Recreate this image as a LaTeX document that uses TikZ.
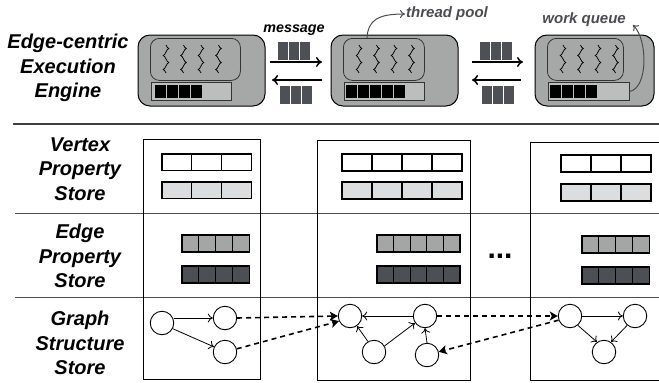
\documentclass[tikz,border=0pt]{standalone}
\usepackage{fontspec}
\setmainfont{Liberation Sans}
\usetikzlibrary{arrows.meta,calc}
\definecolor{engfill}{HTML}{A6A8A8}
\definecolor{barfill}{HTML}{BCBDBD}
\definecolor{msgfill}{HTML}{4D5055}
\definecolor{vlight}{HTML}{DCDDDE}
\definecolor{emid}{HTML}{A3A6A5}
\definecolor{edark}{HTML}{4C4F53}
\definecolor{lblgray}{HTML}{4A4C4F}
\tikzset{
  lbl/.style={font=\fontsize{20}{24.5}\selectfont\bfseries\itshape, align=center},
  engine/.style={draw=black, line width=1pt, fill=engfill, rounded corners=12pt},
  pool/.style={draw=black!80, line width=0.8pt, fill=engfill, rounded corners=9pt},
  qbar/.style={draw=black!80, line width=0.8pt, fill=barfill},
  qcell/.style={fill=black},
  msgcell/.style={fill=msgfill},
  msgarrow/.style={line width=1.8pt, -{To[length=6pt,width=10pt,line width=1.5pt]}},
  cell/.style={draw=black, line width=1.2pt},
  part/.style={draw=black, line width=1pt},
  vnode/.style={circle, draw=black, line width=0.9pt, minimum size=23.5pt, inner sep=0pt},
  gedge/.style={line width=0.8pt, -{To[length=5pt,width=9pt]}},
  dedge/.style={line width=1.6pt, dash pattern=on 5pt off 4pt, -{Stealth[length=8pt,width=9pt,inset=2pt]}},
  callout/.style={draw=lblgray, line width=1pt, -{To[length=5pt,width=8pt]}},
}
\begin{document}
\begin{tikzpicture}[x=1pt,y=-1pt]
\useasboundingbox (0,0) rectangle (659,383);

% ---------- top: execution engine ----------
\node[lbl] (enginelbl) at (68,68) {Edge-centric\\Execution\\Engine};

% engine boxes
\newcommand{\myengine}[7]{% #1 name, #2 x0, #3 x1, #4 poolx1, #5 barx1, #6 ncells, #7 first cell x
  \draw[engine] (#2,35) rectangle (#3,106);
  \node[pool, minimum width={#4-#2-12}, minimum height=42, anchor=north west] (#1pool) at (#2+12,38) {};
  \node[qbar, minimum width={#5-#2-13}, minimum height=18, anchor=north west, inner sep=0pt] (#1bar) at (#2+13,82) {};
  \foreach \i in {1,...,#6} {
    \fill[qcell] ({#7+(\i-1)*12},84.5) rectangle ++(10.5,13);
  }
  \foreach \dx in {0,1,2,3} {
    \draw[line width=0.75pt] ({#2+28+\dx*17.5},45) sin ++(2.8,3.5) cos ++(-2.8,3.5) sin ++(-2.8,3.5) cos ++(2.8,3.5)
       sin ++(2.8,3.5) cos ++(-2.8,3.5) sin ++(-2.8,3.5) cos ++(2.8,3.5);
  }
}
\myengine{ea}{138}{265}{240}{231}{4}{155}
\myengine{eb}{331}{458}{424}{424}{5}{346}
\myengine{ec}{535}{654}{623}{629}{4}{550}

% message blocks and arrows
\newcommand{\mymsg}[2]{\foreach \i in {0,1,2} {\fill[msgcell] ({#1+\i*11},#2) rectangle ++(10,18);}}
\mymsg{278}{42}\mymsg{280}{86}
\mymsg{480}{42}\mymsg{482}{86}
\coordinate (m1a) at (270,62); \coordinate (m1b) at (322,62);
\coordinate (m2a) at (322,80); \coordinate (m2b) at (272,80);
\coordinate (m3a) at (472,62); \coordinate (m3b) at (523,62);
\coordinate (m4a) at (521,80); \coordinate (m4b) at (472,80);
\draw[msgarrow] (m1a) -- (m1b);
\draw[msgarrow] (m2a) -- (m2b);
\draw[msgarrow] (m3a) -- (m3b);
\draw[msgarrow] (m4a) -- (m4b);
\node[font=\fontsize{14.3}{17}\selectfont\bfseries\itshape] (msglbl) at (294,30) {message};

% callouts
\node[font=\fontsize{15}{18}\selectfont\bfseries\itshape, text=lblgray, anchor=west, inner sep=1pt] (tplbl) at (405,14) {thread pool};
\draw[callout] (ebpool.north west -| 367,38) .. controls (368,20) and (378,14) .. (tplbl.west);
\node[font=\fontsize{15}{18}\selectfont\bfseries\itshape, text=lblgray, anchor=east, inner sep=1pt] (wqlbl) at (627,20) {work queue};
\draw[callout] (ecbar.east) .. controls (648,88) and (648,40) .. (633,25);

% separator
\draw[line width=2.2pt, black!75] (13,124) -- (659,124);

% ---------- bottom: stores ----------
\node[lbl] (vlbl) at (80,169) {Vertex\\Property\\Store};
\node[lbl] (elbl) at (80,256) {Edge\\Property\\Store};
\node[lbl] (glbl) at (80,343) {Graph\\Structure\\Store};

\draw[black!70, line width=0.8pt] (15,213) -- (659,213);
\draw[black!70, line width=0.8pt] (15,297) -- (659,297);

% partitions
\draw[part] (143,139) rectangle (260,379);
\draw[part] (317,140) rectangle (470,380);
\draw[part] (662,142) -- (530,142) -- (530,380) -- (662,380);

% arrays: \myarr{x0}{y0}{n}{cellw}{h}{fill}
\newcommand{\myarr}[6]{\foreach \i in {1,...,#3} {\draw[cell, fill=#6] ({#1+(\i-1)*#4},#2) rectangle ++(#4,#5);}}
\myarr{162}{154}{3}{29.7}{16.5}{white}
\myarr{162}{182}{3}{29.7}{16.5}{vlight}
\myarr{342}{154}{4}{30}{17}{white}
\myarr{342}{182}{4}{30}{17}{vlight}
\myarr{561}{155}{3}{30}{17}{white}
\myarr{561}{184}{3}{30}{17}{vlight}

\myarr{182}{235}{4}{16.8}{17}{emid}
\myarr{182}{266}{4}{16.8}{17}{edark}
\myarr{377}{235}{5}{16.6}{17}{emid}
\myarr{377}{266}{5}{16.6}{17}{edark}
\myarr{582}{236}{4}{16.8}{17}{emid}
\myarr{582}{267}{4}{16.8}{17}{edark}

\node[font=\fontsize{30}{30}\selectfont\bfseries] (dots) at (500,256) {...};

% graph structure
\node[vnode] (a1) at (162,323) {};
\node[vnode] (a2) at (225,318) {};
\node[vnode] (a3) at (225,352) {};
\node[vnode] (b1) at (350,316) {};
\node[vnode] (b2) at (425,316) {};
\node[vnode] (b3) at (374,352) {};
\node[vnode] (b4) at (427,355) {};
\node[vnode] (c1) at (570,316) {};
\node[vnode] (c2) at (635,316) {};
\node[vnode] (c3) at (604,352) {};

\draw[gedge] (a1.east |- a2.west) -- (a2.west);
\draw[gedge] (a1.-28) -- (a3.155);
\draw[gedge] (b2.west) -- (b1.east);
\draw[gedge] (b3.120) -- (b1.-55);
\draw[gedge] (b3.30) -- (b2.215);
\draw[gedge] (b4.north) -- (b2.south);
\draw[gedge] (c1.east) -- (c2.west);
\draw[gedge] (c1.-50) -- (c3.125);
\draw[gedge] (c2.-130) -- (c3.55);

\draw[dedge] (a2.east) -- (b1.west);
\draw[dedge] (a3.15) -- (b1.205);
\draw[dedge] (b2.east) -- (c1.west);
\draw[dedge] (c1.200) -- (b4.15);
\end{tikzpicture}
\end{document}
